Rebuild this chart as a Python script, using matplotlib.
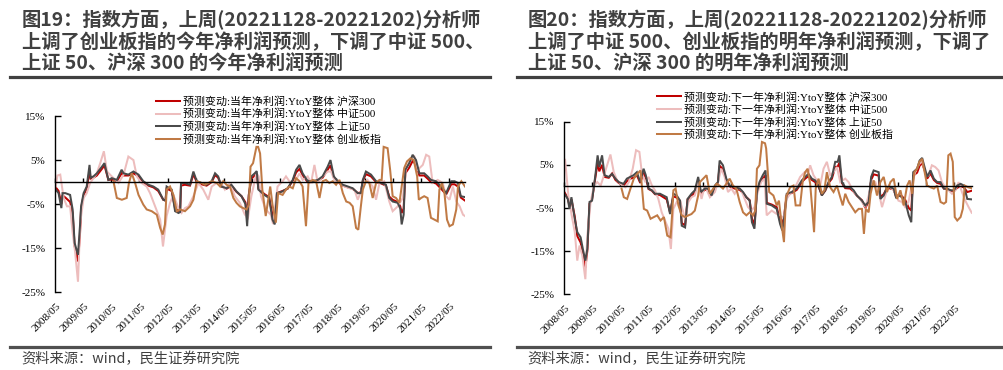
import matplotlib
matplotlib.use("Agg")
import matplotlib.pyplot as plt
from matplotlib.lines import Line2D
from matplotlib import transforms

# ---------------- data (decimal year, % change) ----------------
tick_years = list(range(2008, 2023))
tick_labels = [f"{y}/05" for y in tick_years]
y_ticks = [15, 5, -5, -15, -25]
y_tick_labels = ["15%", "5%", "-5%", "-15%", "-25%"]

# Left panel: 当年净利润
hs300_cur = [(2008.36,-1.2),(2008.46,-2.0),(2008.56,-5.0),(2008.6,-3.0),(2008.7,-3.5),(2008.87,-4.5),(2008.96,-7.0),(2009.03,-14.5),(2009.15,-18.0),(2009.22,-12),(2009.26,-6.0),(2009.35,-3.0),(2009.46,-1.5),(2009.56,2.5),(2009.6,0.8),(2009.7,1.0),(2009.82,1.5),(2010.0,3.0),(2010.09,3.8),(2010.23,0.5),(2010.35,0.6),(2010.53,0.2),(2010.7,2.0),(2010.77,1.5),(2010.94,1.5),(2011.12,2.0),(2011.3,1.3),(2011.47,0.0),(2011.65,-0.8),(2011.83,-1.2),(2012.0,-2.0),(2012.18,-4.0),(2012.26,-4.2),(2012.3,-1.5),(2012.48,-2.0),(2012.6,-6.0),(2012.72,-6.5),(2012.78,-6.2),(2012.81,-0.8),(2012.95,-0.6),(2013.13,-0.8),(2013.25,1.8),(2013.37,0.0),(2013.54,-0.5),(2013.72,-0.8),(2013.9,0.0),(2014.02,1.6),(2014.13,1.0),(2014.25,-1.0),(2014.43,-1.5),(2014.6,-0.8),(2014.78,-2.2),(2014.96,-3.2),(2015.1,-4.6),(2015.16,-8.5),(2015.22,-2.8),(2015.31,0.8),(2015.43,1.5),(2015.5,2.0),(2015.56,-1.5),(2015.77,-2.7),(2015.94,-3.4),(2016.06,-7.5),(2016.14,-8.4),(2016.22,-2.5),(2016.42,-2.0),(2016.6,-1.5),(2016.78,0.3),(2016.9,2.2),(2017.02,3.0),(2017.13,1.6),(2017.31,0.0),(2017.49,0.0),(2017.67,0.3),(2017.84,1.0),(2018.02,2.8),(2018.12,3.8),(2018.24,1.0),(2018.38,0.0),(2018.56,-0.8),(2018.74,-1.2),(2018.91,-1.5),(2019.09,-2.5),(2019.2,-2.3),(2019.27,0.3),(2019.38,1.8),(2019.56,1.3),(2019.74,0.0),(2019.92,-0.3),(2020.09,-0.8),(2020.21,-3.3),(2020.33,-4.0),(2020.51,-4.5),(2020.6,-5.5),(2020.65,-7.0),(2020.72,-6.0),(2020.78,2.0),(2020.92,3.3),(2021.04,4.8),(2021.16,4.0),(2021.28,1.5),(2021.45,1.5),(2021.57,0.8),(2021.69,0.0),(2021.87,-0.3),(2022.05,-1.5),(2022.23,-2.8),(2022.41,-0.5),(2022.53,-0.5),(2022.65,-1.0),(2022.75,-3.5),(2022.9,-4.2)]
zz500_cur = [(2008.36,-1.0),(2008.42,1.5),(2008.52,1.7),(2008.64,-3.6),(2008.76,-5.5),(2008.87,-5.5),(2008.96,-11.5),(2009.05,-16.0),(2009.15,-22.6),(2009.23,-9.2),(2009.35,-3.6),(2009.46,-2.5),(2009.58,-0.2),(2009.7,0.9),(2009.82,2.0),(2009.94,4.3),(2010.07,7.0),(2010.18,2.4),(2010.35,1.3),(2010.59,-0.2),(2010.77,1.7),(2010.94,5.8),(2011.12,5.0),(2011.24,1.3),(2011.41,-0.2),(2011.59,-1.0),(2011.71,-2.5),(2011.89,-5.5),(2012.07,-8.5),(2012.17,-14.6),(2012.3,-7.7),(2012.42,-4.7),(2012.54,-2.9),(2012.72,-5.9),(2012.83,-7.0),(2012.95,-5.9),(2013.07,-5.5),(2013.25,-3.2),(2013.43,-0.2),(2013.6,-1.7),(2013.78,-4.0),(2013.9,-1.0),(2014.08,-0.2),(2014.2,0.2),(2014.37,-1.7),(2014.55,-0.2),(2014.72,-3.2),(2014.9,-4.7),(2015.08,-7.4),(2015.2,-7.7),(2015.31,-3.2),(2015.49,2.0),(2015.57,1.3),(2015.65,-3.2),(2015.82,-6.2),(2016.0,-7.4),(2016.08,-9.5),(2016.24,-1.0),(2016.42,0.2),(2016.54,1.3),(2016.66,0.2),(2016.84,-0.2),(2017.02,2.0),(2017.13,0.5),(2017.31,1.3),(2017.43,-0.2),(2017.55,3.9),(2017.67,-0.2),(2017.84,1.3),(2018.02,2.4),(2018.14,2.4),(2018.26,0.5),(2018.44,-0.2),(2018.62,-1.0),(2018.8,-1.4),(2018.97,-1.7),(2019.09,-4.0),(2019.27,-1.0),(2019.44,0.5),(2019.62,-1.0),(2019.74,-4.0),(2019.86,-0.2),(2020.03,0.2),(2020.21,-4.4),(2020.33,-6.6),(2020.51,-5.5),(2020.69,-3.6),(2020.8,2.8),(2020.98,5.4),(2021.1,5.8),(2021.22,2.8),(2021.4,3.9),(2021.52,6.2),(2021.63,5.8),(2021.75,-0.2),(2021.93,0.5),(2022.11,-0.2),(2022.23,-3.2),(2022.35,-4.0),(2022.47,-1.0),(2022.59,-4.4),(2022.71,-5.5),(2022.83,-7.4),(2022.9,-7.7)]
sz50_cur = [(2008.36,-1.7),(2008.46,-2.5),(2008.56,-5.9),(2008.6,-2.5),(2008.7,-2.5),(2008.87,-2.9),(2008.96,-6.2),(2009.03,-13.8),(2009.15,-16.5),(2009.22,-10),(2009.26,-5.5),(2009.35,-2.5),(2009.46,-1.0),(2009.56,3.9),(2009.6,1.0),(2009.7,1.3),(2009.82,2.0),(2010.0,3.5),(2010.09,4.3),(2010.23,0.5),(2010.35,0.9),(2010.53,0.5),(2010.7,2.8),(2010.77,2.0),(2010.94,1.7),(2011.12,2.4),(2011.3,1.7),(2011.47,0.2),(2011.65,-0.6),(2011.83,-1.0),(2012.0,-1.7),(2012.18,-4.0),(2012.26,-4.2),(2012.3,-1.0),(2012.48,-1.7),(2012.6,-6.6),(2012.72,-7.0),(2012.78,-6.8),(2012.81,-0.2),(2012.95,-0.2),(2013.13,-0.6),(2013.25,2.4),(2013.37,0.2),(2013.54,-0.2),(2013.72,-0.6),(2013.9,0.2),(2014.02,2.0),(2014.13,1.3),(2014.25,-1.0),(2014.43,-1.4),(2014.6,-0.6),(2014.78,-2.1),(2014.96,-3.2),(2015.1,-5.0),(2015.16,-10.0),(2015.22,-3.0),(2015.31,1.3),(2015.43,2.0),(2015.5,2.5),(2015.56,-1.7),(2015.77,-2.9),(2015.94,-3.6),(2016.06,-8.5),(2016.14,-9.6),(2016.22,-2.5),(2016.42,-2.1),(2016.6,-1.4),(2016.78,0.5),(2016.9,2.8),(2017.02,3.9),(2017.13,2.0),(2017.31,0.2),(2017.49,0.2),(2017.67,0.5),(2017.84,1.3),(2018.02,3.5),(2018.12,5.0),(2018.24,1.3),(2018.38,0.2),(2018.56,-0.6),(2018.74,-1.0),(2018.91,-1.4),(2019.09,-2.5),(2019.2,-2.5),(2019.27,0.5),(2019.38,2.4),(2019.56,1.7),(2019.74,0.2),(2019.92,-0.2),(2020.09,-0.6),(2020.21,-3.6),(2020.33,-4.4),(2020.51,-4.7),(2020.6,-6.0),(2020.65,-9.6),(2020.72,-7.4),(2020.78,2.8),(2020.92,4.3),(2021.04,6.2),(2021.16,5.0),(2021.28,2.0),(2021.45,2.0),(2021.57,1.3),(2021.69,0.5),(2021.87,0.2),(2022.05,-1.0),(2022.23,-2.5),(2022.41,0.2),(2022.53,0.2),(2022.65,-0.2),(2022.75,-3.2),(2022.9,-3.4)]
cyb_cur = [(2010.41,0.2),(2010.53,-3.6),(2010.71,-4.0),(2010.88,-3.6),(2010.96,-0.2),(2011.06,2.0),(2011.18,-0.2),(2011.3,-2.9),(2011.47,-5.1),(2011.59,-6.2),(2011.77,-6.6),(2011.95,-7.4),(2012.07,-10.4),(2012.16,-11.9),(2012.24,-9.6),(2012.3,-1.7),(2012.42,-1.0),(2012.54,-2.9),(2012.66,-6.6),(2012.78,-6.2),(2012.95,-6.6),(2013.13,-5.5),(2013.25,-4.0),(2013.37,0.2),(2013.54,-0.2),(2013.66,-0.6),(2013.78,-0.2),(2013.9,0.2),(2014.08,-0.2),(2014.2,-1.0),(2014.31,0.2),(2014.43,-0.6),(2014.55,-1.0),(2014.67,-3.6),(2014.78,-4.7),(2014.9,-5.5),(2015.02,-5.9),(2015.14,-6.2),(2015.22,-5.1),(2015.28,3.5),(2015.37,4.3),(2015.49,8.0),(2015.55,8.0),(2015.62,6.5),(2015.7,-1.7),(2015.82,-7.7),(2015.98,-1.0),(2016.06,-5.1),(2016.18,-9.2),(2016.26,-2.5),(2016.42,-2.9),(2016.54,-1.7),(2016.66,-1.0),(2016.78,-1.4),(2016.9,0.9),(2017.02,0.2),(2017.13,-1.0),(2017.25,-10.0),(2017.34,-0.2),(2017.49,0.5),(2017.61,0.2),(2017.73,-3.6),(2017.84,0.2),(2017.96,0.5),(2018.08,-0.2),(2018.2,0.2),(2018.32,-0.6),(2018.44,0.5),(2018.56,-2.5),(2018.68,-4.4),(2018.8,-4.7),(2018.91,-5.5),(2019.03,-10.4),(2019.11,-10.8),(2019.2,-5.5),(2019.27,-1.7),(2019.38,0.2),(2019.5,-0.2),(2019.62,-3.6),(2019.74,-0.2),(2019.86,0.5),(2019.94,0.5),(2020.01,8.0),(2020.15,7.7),(2020.24,2.8),(2020.33,-3.2),(2020.45,-3.6),(2020.57,-4.7),(2020.65,-1.0),(2020.74,3.2),(2020.84,4.7),(2020.96,5.4),(2021.08,5.0),(2021.2,1.3),(2021.26,-4.0),(2021.34,-3.6),(2021.45,-3.2),(2021.57,-3.6),(2021.69,-8.1),(2021.81,-8.5),(2021.93,-8.9),(2021.99,-1.7),(2022.08,-0.2),(2022.17,-2.5),(2022.26,-8.5),(2022.35,-10.0),(2022.47,-9.6),(2022.59,-6.2),(2022.65,-1.0),(2022.77,0.2),(2022.9,-1.0)]

# Right panel: 下一年净利润
hs300_next = [(2008.3,-0.8),(2008.39,-1.8),(2008.47,-2.8),(2008.53,-4.5),(2008.6,-3.0),(2008.72,-7.0),(2008.81,-11.5),(2008.93,-13.0),(2009.01,-15.5),(2009.1,-18.8),(2009.17,-15.0),(2009.25,-4.0),(2009.34,-3.0),(2009.46,2.0),(2009.54,5.5),(2009.6,3.5),(2009.7,5.0),(2009.79,2.2),(2009.94,2.0),(2010.06,3.0),(2010.18,1.5),(2010.3,0.8),(2010.47,0.2),(2010.59,1.2),(2010.71,1.8),(2010.83,2.0),(2010.95,2.6),(2011.07,0.8),(2011.19,3.2),(2011.27,2.0),(2011.37,-0.6),(2011.49,-1.0),(2011.6,-1.8),(2011.78,-2.0),(2011.9,-2.5),(2012.02,-3.0),(2012.14,-6.0),(2012.26,-2.3),(2012.38,-2.6),(2012.5,-3.5),(2012.56,-8.5),(2012.68,-9.0),(2012.77,-3.0),(2012.91,-2.2),(2013.03,-1.3),(2013.15,1.5),(2013.25,-1.5),(2013.39,-0.8),(2013.51,-0.8),(2013.63,-2.0),(2013.75,0.0),(2013.86,0.8),(2013.92,4.8),(2014.04,4.0),(2014.16,1.5),(2014.28,0.0),(2014.46,-0.5),(2014.64,-0.8),(2014.76,-1.5),(2014.88,-2.5),(2015.0,-3.2),(2015.08,-7.5),(2015.17,-8.8),(2015.26,-1.5),(2015.35,0.5),(2015.47,1.8),(2015.57,2.6),(2015.61,-3.8),(2015.79,-4.2),(2015.97,-4.8),(2016.09,-8.0),(2016.17,-9.0),(2016.25,-6.0),(2016.33,-2.0),(2016.51,-1.5),(2016.69,-0.8),(2016.87,1.0),(2016.99,1.8),(2017.11,2.4),(2017.23,1.5),(2017.35,1.0),(2017.47,0.0),(2017.59,-2.0),(2017.71,-1.0),(2017.83,0.8),(2017.95,1.8),(2018.07,4.5),(2018.16,4.6),(2018.22,5.5),(2018.31,0.8),(2018.43,-0.4),(2018.61,-0.5),(2018.73,-1.2),(2018.85,-2.2),(2019.03,-3.2),(2019.15,-5.0),(2019.27,-3.5),(2019.36,1.5),(2019.45,2.8),(2019.63,2.5),(2019.69,-2.5),(2019.81,-1.8),(2019.93,-0.3),(2020.05,-0.5),(2020.17,-0.7),(2020.25,-2.3),(2020.35,-2.0),(2020.47,-2.3),(2020.59,-3.2),(2020.71,-5.0),(2020.8,-5.6),(2020.87,2.5),(2021.01,3.2),(2021.1,4.8),(2021.19,5.4),(2021.29,3.5),(2021.37,1.8),(2021.49,3.0),(2021.61,1.5),(2021.73,0.8),(2021.85,0.6),(2021.97,-0.5),(2022.09,-0.6),(2022.21,-1.0),(2022.33,-1.1),(2022.45,-0.3),(2022.57,0.0),(2022.69,-0.2),(2022.81,-1.3),(2022.97,-1.0)]
zz500_next = [(2008.3,1.0),(2008.37,6.4),(2008.49,-2.1),(2008.61,-6.7),(2008.72,-10.6),(2008.81,-17.2),(2008.89,-13.7),(2008.99,-16.0),(2009.1,-21.5),(2009.17,-11.4),(2009.29,-3.6),(2009.41,0.2),(2009.53,1.0),(2009.65,0.2),(2009.77,2.6),(2009.88,4.9),(2010.0,7.4),(2010.12,3.3),(2010.24,1.4),(2010.42,0.2),(2010.54,-0.2),(2010.66,1.0),(2010.8,4.1),(2010.92,8.4),(2011.04,8.0),(2011.13,3.0),(2011.25,1.0),(2011.37,2.2),(2011.49,0.2),(2011.6,-0.9),(2011.72,-2.9),(2011.84,-6.0),(2011.96,-7.9),(2012.08,-9.8),(2012.17,-14.5),(2012.26,-5.2),(2012.38,-3.6),(2012.5,-3.3),(2012.68,-7.5),(2012.8,-3.6),(2012.91,-2.5),(2013.03,-2.1),(2013.15,1.0),(2013.27,-2.9),(2013.39,0.2),(2013.57,-2.5),(2013.75,-1.3),(2013.86,1.0),(2013.98,4.1),(2014.1,2.2),(2014.22,-1.3),(2014.34,-0.5),(2014.46,-1.7),(2014.58,-0.2),(2014.7,-0.9),(2014.82,-2.9),(2014.94,-4.8),(2015.06,-5.6),(2015.17,-4.8),(2015.29,-1.3),(2015.41,1.0),(2015.53,1.8),(2015.61,-6.7),(2015.79,-5.6),(2015.97,-6.4),(2016.09,-6.7),(2016.21,-7.5),(2016.33,-2.9),(2016.45,-1.7),(2016.57,-0.9),(2016.69,0.6),(2016.81,2.2),(2016.97,3.3),(2017.11,3.3),(2017.17,4.9),(2017.29,2.6),(2017.41,1.4),(2017.53,0.2),(2017.65,4.1),(2017.77,5.7),(2017.89,2.6),(2018.01,3.3),(2018.13,4.5),(2018.25,1.0),(2018.43,1.8),(2018.55,1.0),(2018.67,-0.5),(2018.79,-1.7),(2018.91,-2.5),(2019.03,-3.6),(2019.15,-4.8),(2019.27,-2.1),(2019.39,1.4),(2019.51,1.0),(2019.63,-1.3),(2019.75,-4.8),(2019.87,-2.1),(2019.99,0.2),(2020.1,-0.5),(2020.22,-1.3),(2020.34,-3.3),(2020.46,-3.6),(2020.58,-4.8),(2020.7,-3.6),(2020.82,0.2),(2020.94,3.3),(2021.06,4.9),(2021.18,6.0),(2021.3,3.3),(2021.42,2.6),(2021.54,4.9),(2021.66,4.5),(2021.78,3.7),(2021.9,1.0),(2022.02,-0.2),(2022.14,-0.9),(2022.26,-1.7),(2022.38,-0.9),(2022.5,1.0),(2022.62,-1.3),(2022.74,-3.3),(2022.86,-4.8),(2022.97,-6.1)]
sz50_next = [(2008.3,-1.3),(2008.39,-2.1),(2008.47,-2.9),(2008.53,-5.2),(2008.6,-2.5),(2008.72,-7.5),(2008.81,-10.6),(2008.93,-11.8),(2009.01,-14.5),(2009.1,-17.2),(2009.17,-14.5),(2009.25,-3.6),(2009.34,-3.3),(2009.46,2.6),(2009.54,7.2),(2009.6,4.5),(2009.7,7.2),(2009.79,2.6),(2009.94,2.2),(2010.06,2.9),(2010.18,1.8),(2010.3,1.0),(2010.47,0.6),(2010.59,1.8),(2010.71,2.2),(2010.83,2.6),(2010.95,3.3),(2011.07,1.0),(2011.19,4.1),(2011.27,2.6),(2011.37,-0.5),(2011.49,-0.9),(2011.6,-1.7),(2011.78,-1.7),(2011.9,-2.1),(2012.02,-2.5),(2012.14,-6.4),(2012.26,-1.7),(2012.38,-2.1),(2012.5,-3.3),(2012.56,-9.1),(2012.68,-9.5),(2012.77,-2.9),(2012.91,-1.7),(2013.03,-0.9),(2013.15,2.2),(2013.25,-1.3),(2013.39,-0.5),(2013.51,-0.5),(2013.63,-2.1),(2013.75,0.2),(2013.86,1.0),(2013.92,6.0),(2014.04,4.9),(2014.16,1.8),(2014.28,0.2),(2014.46,-0.2),(2014.64,-0.5),(2014.76,-1.3),(2014.88,-2.5),(2015.0,-3.3),(2015.08,-8.3),(2015.17,-9.8),(2015.26,-1.3),(2015.35,1.0),(2015.47,2.6),(2015.57,3.7),(2015.61,-4.0),(2015.79,-4.4),(2015.97,-5.2),(2016.09,-8.7),(2016.17,-10.2),(2016.25,-6.7),(2016.33,-1.7),(2016.51,-1.3),(2016.69,-0.5),(2016.87,1.4),(2016.99,2.2),(2017.11,2.9),(2017.23,1.8),(2017.35,1.4),(2017.47,0.2),(2017.59,-2.1),(2017.71,-0.9),(2017.83,1.0),(2017.95,2.2),(2018.07,5.7),(2018.16,5.7),(2018.22,7.2),(2018.31,1.0),(2018.43,-0.2),(2018.61,-0.2),(2018.73,-0.9),(2018.85,-2.1),(2019.03,-3.3),(2019.15,-4.4),(2019.27,-3.6),(2019.36,2.2),(2019.45,3.7),(2019.63,3.3),(2019.69,-2.9),(2019.81,-2.1),(2019.93,-0.2),(2020.05,-0.2),(2020.17,-0.5),(2020.25,-2.5),(2020.35,-2.1),(2020.47,-2.5),(2020.59,-3.6),(2020.71,-6.7),(2020.8,-8.3),(2020.87,3.3),(2021.01,4.1),(2021.1,6.0),(2021.19,6.6),(2021.29,4.1),(2021.37,2.2),(2021.49,3.7),(2021.61,1.8),(2021.73,1.0),(2021.85,1.0),(2021.97,-0.5),(2022.09,-0.5),(2022.21,-0.9),(2022.33,-0.9),(2022.45,0.2),(2022.57,0.6),(2022.69,0.2),(2022.81,-2.9),(2022.97,-3.0)]
cyb_next = [(2010.4,-0.5),(2010.48,-2.5),(2010.6,-2.9),(2010.72,-0.5),(2010.84,1.8),(2010.96,2.9),(2011.08,3.7),(2011.2,-5.2),(2011.32,-5.6),(2011.44,-7.5),(2011.56,-7.1),(2011.68,-6.7),(2011.8,-7.9),(2011.92,-7.1),(2012.04,-11.4),(2012.16,-11.8),(2012.22,-6.0),(2012.26,-0.9),(2012.34,-0.5),(2012.44,-4.4),(2012.56,-6.7),(2012.68,-7.1),(2012.8,-6.7),(2012.91,-6.4),(2013.03,-5.6),(2013.15,-2.1),(2013.21,1.0),(2013.33,1.8),(2013.45,2.6),(2013.57,-1.7),(2013.69,-0.5),(2013.81,0.6),(2013.92,0.2),(2014.04,-0.5),(2014.16,0.6),(2014.28,1.8),(2014.4,0.2),(2014.52,-0.5),(2014.64,-3.6),(2014.76,-6.0),(2014.88,-6.7),(2015.0,-6.0),(2015.12,-6.7),(2015.2,-5.6),(2015.26,4.1),(2015.35,4.9),(2015.44,10.3),(2015.55,10.0),(2015.59,8.8),(2015.7,-1.3),(2015.85,-2.1),(2015.97,-4.4),(2016.05,-3.3),(2016.15,-9.1),(2016.23,-12.9),(2016.3,-2.5),(2016.45,-0.2),(2016.57,0.2),(2016.65,-4.4),(2016.81,-4.4),(2016.9,1.0),(2016.99,3.3),(2017.08,4.1),(2017.17,0.6),(2017.25,-5.6),(2017.31,-10.6),(2017.37,-0.5),(2017.47,1.8),(2017.59,-1.7),(2017.68,-0.9),(2017.77,3.3),(2017.89,-0.2),(2018.01,-1.3),(2018.13,0.2),(2018.25,-2.5),(2018.34,-4.4),(2018.43,-1.7),(2018.55,-3.6),(2018.67,-4.8),(2018.79,-6.0),(2018.91,-5.2),(2019.03,-5.2),(2019.1,-11.0),(2019.17,-5.2),(2019.27,-6.0),(2019.34,-1.7),(2019.45,1.4),(2019.57,-2.1),(2019.69,1.0),(2019.81,2.2),(2019.93,-1.3),(2020.05,1.0),(2020.17,1.8),(2020.29,-2.9),(2020.41,-0.9),(2020.53,-4.4),(2020.65,0.2),(2020.74,1.4),(2020.83,-1.7),(2020.91,3.3),(2021.01,4.1),(2021.09,5.7),(2021.19,6.4),(2021.28,3.3),(2021.37,0.2),(2021.49,-0.2),(2021.61,-0.5),(2021.73,0.2),(2021.85,-3.6),(2021.97,-4.0),(2022.05,-3.6),(2022.13,7.2),(2022.21,7.6),(2022.29,5.7),(2022.36,-7.1),(2022.45,-7.9),(2022.57,-7.1),(2022.65,-5.2),(2022.72,0.2),(2022.84,-0.2),(2022.96,-0.4)]

labels_cur = ["预测变动:当年净利润:YtoY整体 沪深300", "预测变动:当年净利润:YtoY整体 中证500",
              "预测变动:当年净利润:YtoY整体 上证50", "预测变动:当年净利润:YtoY整体 创业板指"]
labels_next = ["预测变动:下一年净利润:YtoY整体 沪深300", "预测变动:下一年净利润:YtoY整体 中证500",
               "预测变动:下一年净利润:YtoY整体 上证50", "预测变动:下一年净利润:YtoY整体 创业板指"]
title_left = ("图19：指数方面，上周(20221128-20221202)分析师\n"
              "上调了创业板指的今年净利润预测，下调了中证 500、\n"
              "上证 50、沪深 300 的今年净利润预测")
title_right = ("图20：指数方面，上周(20221128-20221202)分析师\n"
               "上调了中证 500、创业板指的明年净利润预测，下调了\n"
               "上证 50、沪深 300 的明年净利润预测")
source_text = "资料来源：wind，民生证券研究院"

# ---------------- style ----------------
colors = ["#C00000", "#EDBDBD", "#4A4A4A", "#C07A45"]
SERIF = ["Liberation Serif", "Noto Sans CJK SC"]
CJK = ["Noto Sans CJK SC", "DejaVu Sans"]
TXT = "#404040"
W, H = 1004, 370

fig = plt.figure(figsize=(W / 100, H / 100), dpi=100)


def rect(l, t, r, b):
    return [l / W, 1 - b / H, (r - l) / W, (b - t) / H]


def panel(pos, xmax, series, labels, leg_xy, title, title_x, line_x):
    ax = fig.add_axes(rect(*pos))
    handles = []
    for s, c in zip(series, colors):
        xs = [p[0] for p in s]
        ys = [p[1] for p in s]
        h, = ax.plot(xs, ys, color=c, lw=1.45, solid_joinstyle="miter")
        handles.append(h)
    ax.set_xlim(2008 + 4 / 12, xmax)
    ax.set_ylim(-25, 15)
    ax.spines["top"].set_visible(False)
    ax.spines["right"].set_visible(False)
    ax.spines["bottom"].set_position(("data", 0))
    ax.spines["bottom"].set_linewidth(1.0)
    ax.spines["left"].set_linewidth(1.0)
    ax.set_yticks(y_ticks)
    ax.set_yticklabels(y_tick_labels, family=SERIF, fontsize=8, color="black")
    ax.tick_params(axis="y", direction="in", length=4, width=1, pad=7)
    tpos = [y + 4 / 12 for y in tick_years]
    ax.set_xticks(tpos)
    ax.tick_params(axis="x", direction="in", length=3, width=1, labelbottom=False)
    trans = transforms.blended_transform_factory(ax.transData, ax.transAxes)
    for tx, lab in zip(tpos, tick_labels):
        ax.text(tx + 0.05, -0.055, lab, transform=trans, rotation=45, ha="right", va="top",
                rotation_mode="anchor", fontsize=8, family=SERIF, color="black")
    fig.legend(handles, labels, loc="upper left", bbox_to_anchor=(leg_xy[0] / W, 1 - leg_xy[1] / H),
               frameon=False, prop={"family": SERIF, "size": 7.9}, handlelength=2.2,
               handletextpad=0.3, labelspacing=0.18, borderpad=0, borderaxespad=0)
    fig.text(title_x / W, 1 - 10 / H, title, ha="left", va="top", fontsize=13.9, fontweight="bold",
             color=TXT, family=CJK, linespacing=1.15)
    fig.add_artist(Line2D([line_x[0] / W, line_x[1] / W], [1 - 77 / H] * 2, lw=2.3, color="#404040"))
    fig.add_artist(Line2D([line_x[0] / W, line_x[1] / W], [1 - 346.5 / H] * 2, lw=2.3, color="#505050"))
    fig.text((title_x - 1) / W, 1 - 359 / H, source_text, ha="left", va="center", fontsize=10.3,
             color=TXT, family=CJK)
    return ax


panel((55, 116, 465, 292.3), 2022.9, [hs300_cur, zz500_cur, sz50_cur, cyb_cur], labels_cur,
      (156, 96), title_left, 22, (10, 490))
panel((564, 121.7, 972, 294.3), 2022.98, [hs300_next, zz500_next, sz50_next, cyb_next], labels_next,
      (657, 91.5), title_right, 528, (517, 1001))

fig.savefig("out.png", dpi=100)
